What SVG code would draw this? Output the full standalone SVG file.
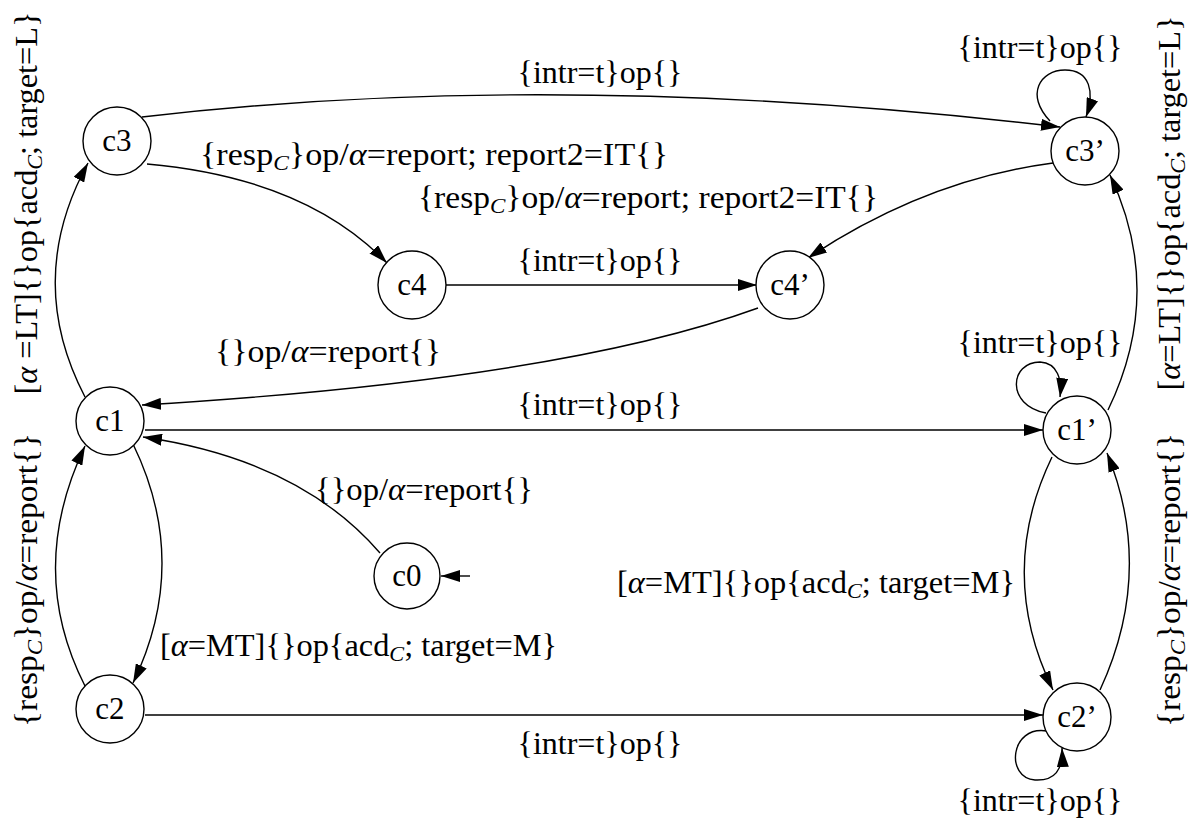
<svg xmlns="http://www.w3.org/2000/svg" width="1192" height="826" viewBox="0 0 1192 826">
<style>
text{font-family:"Liberation Serif","DejaVu Serif",serif;font-size:32px;fill:#000}
.n circle{fill:#fff;stroke:#000;stroke-width:1.4}
.n text{text-anchor:middle;font-size:31px}
.e path{fill:none;stroke:#000;stroke-width:1.4;marker-end:url(#ah)}
.m{text-anchor:middle}
.i{font-style:italic}
.s{font-style:italic;font-size:22px}
</style>
<defs>
<marker id="ah" markerUnits="userSpaceOnUse" markerWidth="20" markerHeight="12" refX="19" refY="6" orient="auto">
<path d="M0,0 L19,6 L0,12 z" fill="#000"/>
</marker>
</defs>
<g id="connectors" class="e">
<path d="M142,117 Q560,68 1060,127"/>
<path d="M147,164 Q305,178 387,263"/>
<path d="M1053,163 Q925,180 808,258"/>
<path d="M446,285 L757,285"/>
<path d="M758,308 Q560,380 142,405"/>
<path d="M145,430 L1043,430"/>
<path d="M380,553 Q300,460 143,437"/>
<path d="M133,444 Q191,563 133,683"/>
<path d="M85,686 Q26,570 85,446"/>
<path d="M85,397 Q24,280 88,163"/>
<path d="M145,715 L1043,715"/>
<path d="M1108,410 Q1165,292 1110,175"/>
<path d="M1052,457 Q996,573 1053,690"/>
<path d="M1100,690 Q1155,571 1107,453"/>
<path d="M1050,121 C1025,95 1040,70 1065,70 C1090,70 1095,92 1086,117"/>
<path d="M1046,413 C1005,405 1010,362 1040,362 C1058,363 1062,380 1060,397"/>
<path d="M1047,731 C1010,725 1005,778 1035,780 C1055,781 1063,770 1062,748"/>
<path d="M470,576 L441,576"/>
</g>
<g id="labels">
<text class="m" x="600" y="83" textLength="165" lengthAdjust="spacingAndGlyphs">{intr=t}op{}</text>
<text x="200" y="165" textLength="468" lengthAdjust="spacingAndGlyphs">{resp<tspan class="s" dy="5">C</tspan><tspan dy="-5">}op/</tspan><tspan class="i">α</tspan>=report; report2=IT{}</text>
<text x="418" y="208" textLength="460" lengthAdjust="spacingAndGlyphs">{resp<tspan class="s" dy="5">C</tspan><tspan dy="-5">}op/</tspan><tspan class="i">α</tspan>=report; report2=IT{}</text>
<text class="m" x="600" y="271" textLength="165" lengthAdjust="spacingAndGlyphs">{intr=t}op{}</text>
<text x="215" y="362" textLength="226" lengthAdjust="spacingAndGlyphs">{}op/<tspan class="i">α</tspan>=report{}</text>
<text class="m" x="600" y="415" textLength="165" lengthAdjust="spacingAndGlyphs">{intr=t}op{}</text>
<text x="315" y="500" textLength="218" lengthAdjust="spacingAndGlyphs">{}op/<tspan class="i">α</tspan>=report{}</text>
<text x="160" y="656" textLength="397" lengthAdjust="spacingAndGlyphs">[<tspan class="i">α</tspan>=MT]{}op{acd<tspan class="s" dy="5">C</tspan><tspan dy="-5">; target=M}</tspan></text>
<text x="617" y="593" textLength="398" lengthAdjust="spacingAndGlyphs">[<tspan class="i">α</tspan>=MT]{}op{acd<tspan class="s" dy="5">C</tspan><tspan dy="-5">; target=M}</tspan></text>
<text class="m" x="600" y="754" textLength="165" lengthAdjust="spacingAndGlyphs">{intr=t}op{}</text>
<text class="m" x="1040" y="58" textLength="165" lengthAdjust="spacingAndGlyphs">{intr=t}op{}</text>
<text class="m" x="1040" y="353" textLength="165" lengthAdjust="spacingAndGlyphs">{intr=t}op{}</text>
<text class="m" x="1040" y="811" textLength="165" lengthAdjust="spacingAndGlyphs">{intr=t}op{}</text>
<text class="m" transform="translate(37,203) rotate(-90)" textLength="383" lengthAdjust="spacingAndGlyphs">[<tspan class="i">α</tspan> =LT]{}op{acd<tspan class="s" dy="5">C</tspan><tspan dy="-5">; target=L}</tspan></text>
<text class="m" transform="translate(37,580) rotate(-90)" textLength="294" lengthAdjust="spacingAndGlyphs">{resp<tspan class="s" dy="5">C</tspan><tspan dy="-5">}op/</tspan><tspan class="i">α</tspan>=report{}</text>
<text class="m" transform="translate(1180,203) rotate(-90)" textLength="375" lengthAdjust="spacingAndGlyphs">[<tspan class="i">α</tspan>=LT]{}op{acd<tspan class="s" dy="5">C</tspan><tspan dy="-5">; target=L}</tspan></text>
<text class="m" transform="translate(1180,580) rotate(-90)" textLength="294" lengthAdjust="spacingAndGlyphs">{resp<tspan class="s" dy="5">C</tspan><tspan dy="-5">}op/</tspan><tspan class="i">α</tspan>=report{}</text>
</g>
<g id="c3" class="n"><circle cx="117" cy="141" r="34"/><text x="117" y="151">c3</text></g>
<g id="c3p" class="n"><circle cx="1085" cy="151" r="34"/><text x="1085" y="161">c3’</text></g>
<g id="c4" class="n"><circle cx="412" cy="285" r="34"/><text x="412" y="295">c4</text></g>
<g id="c4p" class="n"><circle cx="790" cy="285" r="34"/><text x="790" y="295">c4’</text></g>
<g id="c1" class="n"><circle cx="110" cy="421" r="34"/><text x="110" y="431">c1</text></g>
<g id="c1p" class="n"><circle cx="1077" cy="430" r="34"/><text x="1077" y="440">c1’</text></g>
<g id="c0" class="n"><circle cx="407" cy="576" r="33"/><text x="407" y="586">c0</text></g>
<g id="c2" class="n"><circle cx="110" cy="709" r="34"/><text x="110" y="719">c2</text></g>
<g id="c2p" class="n"><circle cx="1077" cy="717" r="34"/><text x="1077" y="727">c2’</text></g>
</svg>
